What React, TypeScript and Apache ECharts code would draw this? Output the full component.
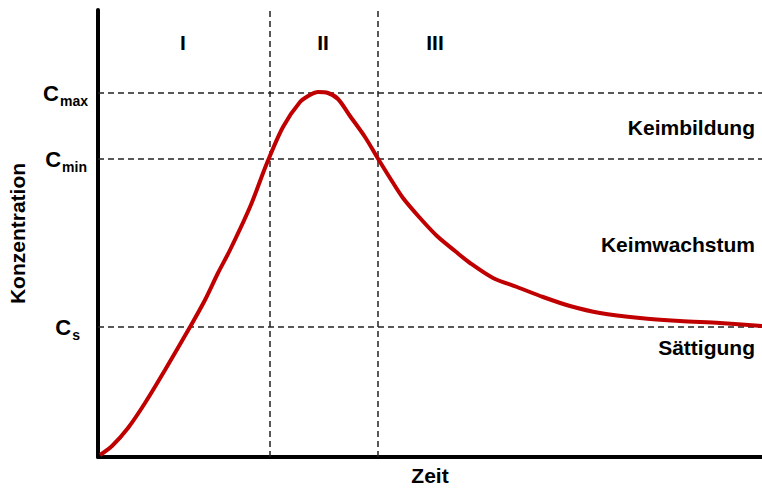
import React, { useEffect, useRef } from "react";
import * as echarts from "echarts";

const timeValues = [2, 14, 30, 47, 67, 92, 107, 120, 132, 152, 169, 185, 202, 212, 220, 230, 240, 252, 267, 279, 292, 305, 322, 339, 357, 372, 395, 419, 445, 472, 502, 542, 582, 622, 664];
const concentrationValues = [2, 11, 29, 54, 87, 130, 157, 184, 207, 250, 294, 330, 355, 362, 365, 364, 358, 341, 320, 300, 279, 259, 239, 221, 206, 194, 179, 170, 160, 151, 144, 139, 136, 134, 131];
const levelNames = ["max", "min", "s"];
const levelValues = [364, 298, 130];
const levelLabelGaps = [10, 11, 18];
const phaseBoundaries = [172, 280];
const phaseLabels = ["I", "II", "III"];
const regionLabels = ["Keimbildung", "Keimwachstum", "Sättigung"];

const FONT = "'Liberation Sans', Arial, sans-serif";

export default function App() {
  const ref = useRef<HTMLDivElement>(null);
  useEffect(() => {
    const chart = echarts.init(ref.current!, null, { renderer: "svg" });
    const dash = { type: [6, 4] as any, color: "#222", width: 1.5 };
    const markData: any[] = [];
    levelValues.forEach((v, i) => {
      markData.push({
        yAxis: v,
        label: {
          show: true,
          position: "start",
          distance: levelLabelGaps[i],
          formatter: "{c|C}{s|" + levelNames[i] + "}",
          rich: {
            c: { fontSize: 22, fontWeight: "bold", fontFamily: FONT, color: "#000" },
            s: { fontSize: 14, fontWeight: "bold", fontFamily: FONT, color: "#000", padding: [15, 0, 0, 1] },
          },
        },
      });
    });
    phaseBoundaries.forEach((v) => {
      markData.push({ xAxis: v, label: { show: false } });
    });
    const textStyle = (t: string, x: number, y: number, align = "center") => ({
      type: "text",
      x,
      y,
      style: {
        text: t,
        fontSize: 21,
        fontWeight: "bold",
        fontFamily: FONT,
        fill: "#000",
        align,
        verticalAlign: "middle",
      },
    });
    chart.setOption({
      animation: false,
      grid: { left: 98, right: 0, top: 10, bottom: 32, outerBoundsMode: "none", containLabel: false },
      xAxis: {
        type: "value",
        min: 0,
        max: 664,
        name: "Zeit",
        nameLocation: "middle",
        nameGap: 8,
        nameTextStyle: { fontSize: 21, fontWeight: "bold", fontFamily: FONT, color: "#000" },
        axisLine: { show: true, lineStyle: { color: "#000", width: 4 } },
        axisTick: { show: false },
        axisLabel: { show: false },
        splitLine: { show: false },
      },
      yAxis: {
        type: "value",
        min: 0,
        max: 447,
        name: "Konzentration",
        nameLocation: "middle",
        nameGap: 70,
        nameTextStyle: { fontSize: 21, fontWeight: "bold", fontFamily: FONT, color: "#000" },
        axisLine: { show: true, lineStyle: { color: "#000", width: 4 } },
        axisTick: { show: false },
        axisLabel: { show: false },
        splitLine: { show: false },
      },
      series: [
        {
          type: "line",
          data: timeValues.map((x, i) => [x, concentrationValues[i]]),
          smooth: 0.3,
          showSymbol: false,
          lineStyle: { color: "#C00000", width: 4 },
          z: 3,
          markLine: {
            silent: true,
            symbol: ["none", "none"],
            lineStyle: dash,
            data: markData,
            z: 1,
          },
        },
      ],
      graphic: [
        textStyle(phaseLabels[0], 183, 42),
        textStyle(phaseLabels[1], 323, 42),
        textStyle(phaseLabels[2], 435, 42),
        textStyle(regionLabels[0], 755, 127, "right"),
        textStyle(regionLabels[1], 755, 244, "right"),
        textStyle(regionLabels[2], 755, 347, "right"),
      ],
    });
    return () => chart.dispose();
  }, []);
  return <div ref={ref} style={{ width: 762, height: 489, position: "absolute", left: 0, top: 0 }} />;
}
